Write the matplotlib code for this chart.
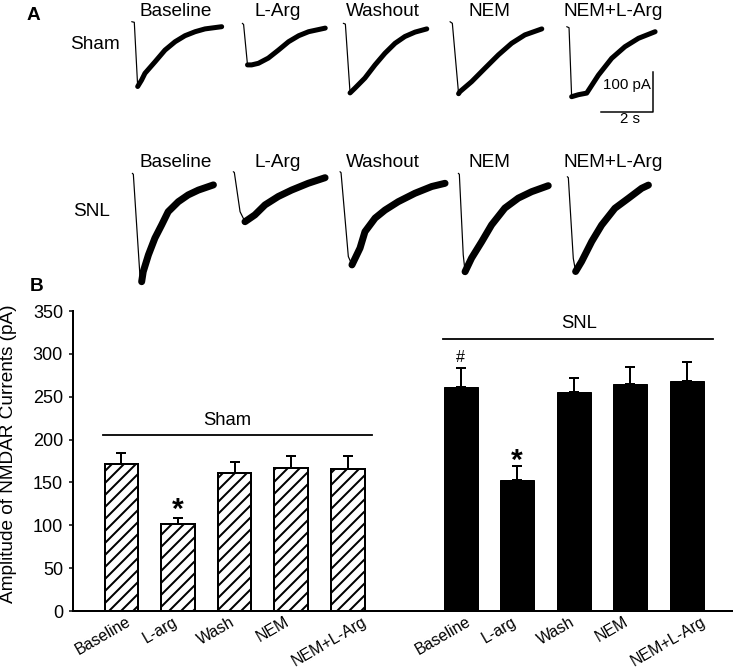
import numpy as np
import matplotlib
matplotlib.use("Agg")
import matplotlib.pyplot as plt
from matplotlib.transforms import ScaledTranslation

plt.rcParams['font.family'] = ['Liberation Sans', 'DejaVu Sans']
plt.rcParams['hatch.linewidth'] = 2

# ---- panel A: example NMDAR current traces (time in s, current in pA) ----
trace_conditions = ["Baseline", "L-Arg", "Washout", "NEM", "NEM+L-Arg"]

sham_time = [
    [0, 0.1, 0.23, 0.38, 0.51, 0.9, 1.28, 1.67, 2.05, 2.44, 2.82, 3.46],
    [0, 0.05, 0.2, 0.36, 0.62, 1.0, 1.39, 1.78, 2.17, 2.55, 3.19],
    [0, 0.08, 0.26, 0.45, 0.83, 1.22, 1.6, 1.99, 2.37, 2.76, 3.21],
    [0, 0.09, 0.33, 0.38, 0.83, 1.35, 1.86, 2.37, 2.88, 3.53],
    [0, 0.09, 0.19, 0.45, 0.77, 1.22, 1.73, 2.24, 2.76, 3.4],
]
sham_current = [
    [0, -1.5, -162, -146, -129, -100, -71, -50, -35, -25, -18, -12.5],
    [0, -3, -104, -104, -100, -87, -67, -46, -31, -21, -12],
    [0, -2, -174, -162, -137, -104, -75, -50, -33, -22, -14],
    [0, -4, -180, -175, -150, -116, -83, -54, -33, -18],
    [0, -2.5, -175, -170, -166, -121, -79, -50, -29, -12.5],
]
snl_time = [
    [0, 0.04, 0.3, 0.36, 0.42, 0.62, 0.87, 1.13, 1.38, 1.77, 2.15, 2.54, 3.12],
    [0, 0.04, 0.26, 0.45, 0.83, 1.22, 1.73, 2.24, 2.88, 3.53],
    [0, 0.04, 0.32, 0.46, 0.77, 0.96, 1.35, 1.73, 2.24, 2.88, 3.53, 4.04],
    [0, 0.04, 0.19, 0.26, 0.51, 0.9, 1.28, 1.79, 2.31, 2.82, 3.46],
    [0, 0.04, 0.23, 0.32, 0.55, 0.94, 1.32, 1.83, 2.35, 2.86, 3.12],
]
snl_current = [
    [0, -2.5, -262, -271, -246, -204, -162, -129, -96, -71, -54, -42, -29],
    [0, -2, -100, -125, -108, -83, -62, -46, -29, -15],
    [0, -2.5, -212, -233, -191, -150, -116, -96, -75, -54, -37, -29],
    [0, -2.5, -204, -246, -212, -171, -129, -87, -62, -46, -31],
    [0, -2.5, -204, -237, -212, -162, -121, -79, -54, -29, -21],
]

# ---- panel B: mean amplitude and SEM ----
bar_labels = ["Baseline", "L-arg", "Wash", "NEM", "NEM+L-Arg"]
sham_mean = [171, 101.5, 161, 166.5, 165.7]
sham_sem = [13, 7.5, 13, 14.5, 15.3]
snl_mean = [261.7, 152.8, 256, 265, 268]
snl_sem = [21.3, 16, 15.9, 20, 22]

W, H = 733, 670
fig = plt.figure(figsize=(W / 72, H / 72), dpi=72)


def fpos(x, y):
    return x / W, 1 - y / H


# trace axes spans the figure: 26 px per second, 0.4 px per pA
PX_S, PX_PA = 26.0, 0.4
ax_a = fig.add_axes([0, 0, 1, 1], zorder=0)
ax_a.set_xlim(0, W / PX_S)
ax_a.set_ylim(-H / PX_PA, 0)
ax_a.axis('off')

sham_origin = [(131.7, 21.7), (242.3, 23.3), (343.3, 23.3), (450, 21.7), (566.7, 26.7)]
snl_origin = [(132.3, 173.3), (233.3, 171.7), (340, 171.7), (458.3, 173.3), (567.3, 176.7)]


def draw_trace(t, cur, origin, lw):
    x0, y0 = origin[0] / PX_S, -origin[1] / PX_PA
    t = np.asarray(t) + x0
    cur = np.asarray(cur) + y0
    k = int(np.argmin(cur))
    ax_a.plot(t, cur, color='black', lw=1.2, solid_capstyle='round')
    ax_a.plot(t[k:], cur[k:], color='black', lw=lw, solid_capstyle='round',
              solid_joinstyle='round')


for t, c, o in zip(sham_time, sham_current, sham_origin):
    draw_trace(t, c, o, 5)
for t, c, o in zip(snl_time, snl_current, snl_origin):
    draw_trace(t, c, o, 7)

# scale bar: 100 pA x 2 s
sb_x, sb_y = 653.3 / PX_S, -111.7 / PX_PA
ax_a.plot([sb_x - 2, sb_x, sb_x], [sb_y, sb_y, sb_y + 100], color='black', lw=1.5)
fig.text(*fpos(651, 88.5), "100 pA", fontsize=15, ha='right', va='baseline')
fig.text(*fpos(630, 123), "2 s", fontsize=15, ha='center', va='baseline')

label_x = [176, 277.5, 383, 489, 613]
for name, x in zip(trace_conditions, label_x):
    fig.text(*fpos(x, 16), name, fontsize=19, ha='center', va='baseline')
    fig.text(*fpos(x, 167), name, fontsize=19, ha='center', va='baseline')
fig.text(*fpos(70, 49), "Sham", fontsize=19, ha='left', va='baseline')
fig.text(*fpos(73, 216), "SNL", fontsize=19, ha='left', va='baseline')
fig.text(*fpos(27, 20), "A", fontsize=19, fontweight='bold', ha='left', va='baseline')
fig.text(*fpos(30, 291), "B", fontsize=19, fontweight='bold', ha='left', va='baseline')

# ---- panel B ----
ax = fig.add_axes([73 / W, 59 / H, 660 / W, 300 / H], zorder=1)
ax.patch.set_alpha(0)
x_sham = np.arange(5)
x_snl = np.arange(5) + 6
width = 0.6

ax.bar(x_sham, sham_mean, width, color='white', edgecolor='black', linewidth=2,
       hatch='//', zorder=2)
ax.errorbar(x_sham, sham_mean, yerr=[np.zeros(5), sham_sem], fmt='none',
            ecolor='black', elinewidth=2, capsize=5, capthick=2, zorder=3)
ax.bar(x_snl, snl_mean, width, color='black', edgecolor='black', linewidth=1, zorder=2)
ax.errorbar(x_snl, snl_mean, yerr=[np.zeros(5), snl_sem], fmt='none',
            ecolor='black', elinewidth=2, capsize=5, capthick=2, zorder=3)

# group lines and labels
ax.plot([-0.33, 4.43], [205, 205], color='black', lw=1.8)
ax.text(1.87, 217, "Sham", fontsize=18.5, ha='center', va='baseline')
ax.plot([5.69, 10.47], [317.5, 317.5], color='black', lw=1.8)
ax.text(8.1, 330, "SNL", fontsize=18.5, ha='center', va='baseline')

# significance marks
ax.text(x_sham[1], sham_mean[1] + sham_sem[1] - 1, "*", fontsize=30,
        fontweight='bold', ha='center', va='baseline')
ax.text(x_snl[1], snl_mean[1] + snl_sem[1] - 3, "*", fontsize=30,
        fontweight='bold', ha='center', va='baseline')
ax.text(x_snl[0], snl_mean[0] + snl_sem[0] + 8, "#", fontsize=16,
        ha='center', va='baseline')

ax.set_xlim(-0.858, 10.82)
ax.set_ylim(0, 350)
ax.set_yticks(np.arange(0, 351, 50))
ax.set_xticks([])

# rotated category labels, shifted left of each bar like the original
lab_tr = ax.get_xaxis_transform() + ScaledTranslation(-18 / 72, -3 / 72, fig.dpi_scale_trans)
for xpos, name in zip(np.concatenate([x_sham, x_snl]), bar_labels + bar_labels):
    ax.text(xpos, 0, name, transform=lab_tr, rotation=30, ha='center', va='top',
            fontsize=16)

ax.tick_params(axis='y', direction='out', length=4, width=1.5, pad=6, labelsize=18)
for s in ['top', 'right']:
    ax.spines[s].set_visible(False)
ax.spines['left'].set_linewidth(2)
ax.spines['bottom'].set_linewidth(2)

fig.text(*fpos(9, 453.5), "Amplitude of NMDAR Currents (pA)", fontsize=19,
         rotation=90, ha='center', va='center')

fig.savefig("out.png", dpi=72)
